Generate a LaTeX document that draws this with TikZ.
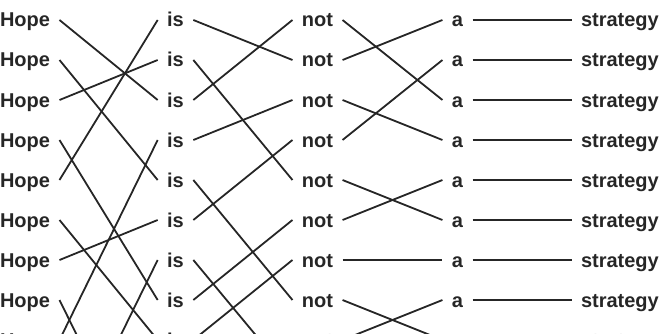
\documentclass[tikz,border=0pt]{standalone}
\usepackage{fontspec}
\setmainfont{Liberation Sans}
\begin{document}
\begin{tikzpicture}[x=1pt,y=-1pt,
  word/.style={inner xsep=0pt, inner ysep=0pt, outer xsep=9.5pt, outer ysep=0pt,
    text height=14pt, text depth=0pt, font=\fontsize{20}{20}\selectfont\bfseries, text=black!85},
  link/.style={line width=1.8pt, draw=black!85}]
\useasboundingbox (0,0) rectangle (660,334);
\clip (0,0) rectangle (660,334);
\foreach \k in {1,...,9}{
  \pgfmathsetmacro\yy{20+40*(\k-1)}
  \node[word, anchor=west] (h\k) at (-9.5,\yy) {Hope};
  \node[word] (i\k) at (175.5,\yy) {is};
  \node[word] (n\k) at (317.5,\yy) {not};
  \node[word] (a\k) at (457.5,\yy) {a};
  \node[word, anchor=west] (s\k) at (571.5,\yy) {strategy};
}
\coordinate (h12) at (59.5,460);
\coordinate (i13) at (158,500);
\coordinate (n10) at (293,380);
% Hope -> is
\foreach \p/\q in {1/3,2/5,3/2,4/8,5/1,6/9,7/6,8/13,9/4,12/7}
  \draw[link] (h\p.east) -- (i\q.west);
% is -> not
\foreach \p/\q in {1/2,2/5,3/1,4/3,5/8,6/4,7/10,8/6,9/7}
  \draw[link] (i\p.east) -- (n\q.west);
% not -> a
\foreach \p/\q in {1/3,2/1,3/4,4/2,5/6,6/5,7/7,8/9,9/8}
  \draw[link] (n\p.east) -- (a\q.west);
% a -> strategy
\foreach \p in {1,...,9}
  \draw[link] (a\p.east) -- (s\p.west);
\end{tikzpicture}
\end{document}
